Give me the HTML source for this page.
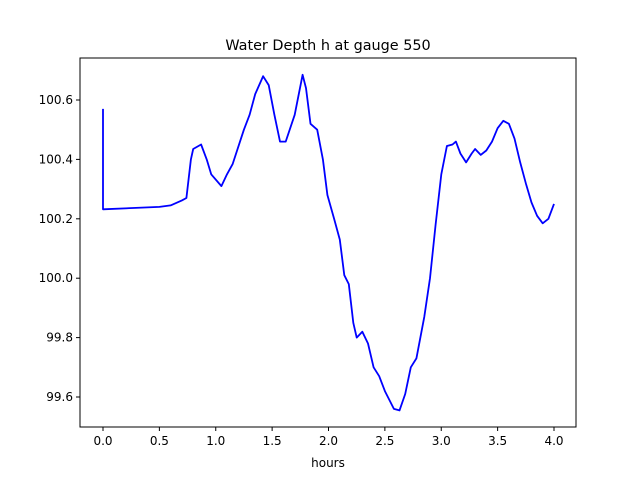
<!DOCTYPE html>
<html><head><meta charset="utf-8"><style>body{margin:0;background:#fff}svg{display:block;font-family:"DejaVu Sans","Liberation Sans",sans-serif}</style></head>
<body>
<svg id="c" width="640" height="480"></svg>
<script>
const times=[0,0,0.5,0.6,0.7,0.74,0.78,0.8,0.87,0.92,0.96,1.05,1.1,1.15,1.25,1.3,1.35,1.42,1.47,1.52,1.57,1.62,1.7,1.77,1.8,1.84,1.9,1.95,1.99,2.05,2.1,2.14,2.18,2.22,2.25,2.3,2.35,2.4,2.45,2.5,2.58,2.63,2.68,2.73,2.78,2.85,2.9,2.95,3.0,3.05,3.1,3.13,3.17,3.22,3.27,3.3,3.35,3.4,3.45,3.5,3.55,3.6,3.65,3.7,3.75,3.8,3.85,3.9,3.95,4.0];
const depth=[100.57,100.232,100.24,100.245,100.262,100.27,100.40,100.435,100.45,100.40,100.35,100.31,100.35,100.385,100.5,100.55,100.62,100.68,100.65,100.55,100.46,100.46,100.55,100.685,100.64,100.52,100.5,100.40,100.28,100.2,100.13,100.01,99.98,99.85,99.80,99.82,99.78,99.7,99.67,99.62,99.56,99.555,99.61,99.70,99.73,99.87,100.0,100.18,100.35,100.445,100.45,100.46,100.42,100.39,100.42,100.435,100.415,100.43,100.46,100.505,100.53,100.52,100.47,100.39,100.32,100.255,100.21,100.185,100.2,100.25];
const xTicks=[0,0.5,1,1.5,2,2.5,3,3.5,4];
const yTicks=[99.6,99.8,100.0,100.2,100.4,100.6];
const NS="http://www.w3.org/2000/svg",svg=document.getElementById('c');
const L=80,R=576,T=58,B=427;
const X=t=>103+t*112.75, Y=v=>100+(100.6-v)*297;
function mk(tag,a,txt){const e=document.createElementNS(NS,tag);for(const k in a)e.setAttribute(k,a[k]);if(txt!==undefined)e.textContent=txt;svg.appendChild(e);return e;}
let d=times.map((t,i)=>(i?'L':'M')+X(t).toFixed(1)+','+Y(depth[i]).toFixed(1)).join('');
const line=mk('path',{d:d,fill:'none',stroke:'#0000ff','stroke-width':1.8,'stroke-linejoin':'round'});


const fr=mk('rect',{x:L,y:T,width:R-L,height:B-T,fill:'none',stroke:'#000','stroke-width':1});


xTicks.forEach(t=>{mk('line',{x1:X(t),x2:X(t),y1:B,y2:B+4,stroke:'#000'});
 const tx=mk('text',{x:X(t),y:B+18,'text-anchor':'middle','font-size':12},t.toFixed(1));
 
 });
yTicks.forEach(v=>{mk('line',{x1:L-4,x2:L,y1:Y(v),y2:Y(v),stroke:'#000'});
 const tx=mk('text',{x:L-7,y:Y(v)+4,'text-anchor':'end','font-size':12},v.toFixed(1));
 
 });
const xt=mk('text',{x:328,y:467,'text-anchor':'middle','font-size':12},'hours');


const ti=mk('text',{x:328,y:50,'text-anchor':'middle','font-size':14.4},'Water Depth h at gauge 550');


</script>
</body></html>
